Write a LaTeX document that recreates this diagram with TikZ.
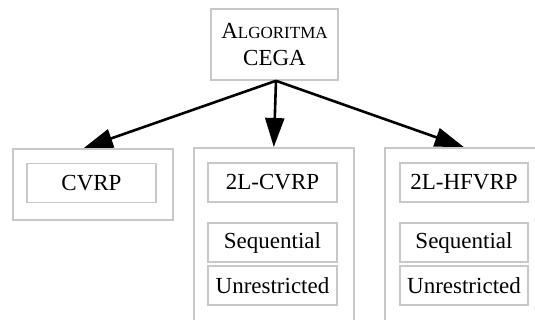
\documentclass[tikz,border=0pt]{standalone}
\usepackage{fontspec}
\setmainfont{Liberation Serif}
\usetikzlibrary{arrows.meta,positioning}
\definecolor{boxgray}{RGB}{200,200,200}
\tikzset{
  frame/.style={draw=boxgray, line width=1.6pt, inner sep=0pt, fill=white},
  cluster/.style={frame, anchor=north west},
  item/.style={frame, minimum width=129pt, minimum height=39pt,
    font=\fontsize{23}{27}\selectfont},
  link/.style={line width=2.6pt, -{Triangle[length=29pt,width=19pt]}}
}
\begin{document}
\begin{tikzpicture}[x=1pt,y=-1pt]
\useasboundingbox (0,0) rectangle (535,320);
\clip (0,0) rectangle (535,320);

% top node
\node[frame, minimum width=127pt, minimum height=71pt, align=center,
  font=\fontsize{23}{27}\selectfont] (cega) at (274.5,44.5)
  {A{\fontsize{17}{27}\selectfont LGORITMA}\\CEGA};

% clusters
\node[cluster, minimum width=160pt, minimum height=71pt] (c1) at (12,148) {};
\node[cluster, minimum width=160pt, minimum height=190pt] (c2) at (193,147) {};
\node[cluster, minimum width=160pt, minimum height=190pt] (c3) at (384,147) {};

% problem variants
\node[item] (cvrp) at (91.5,183) {CVRP};
\node[item] (l2c) at (272.5,182.5) {2L-CVRP};
\node[item] (l2cs) at (272.5,242.5) {Sequential};
\node[item] (l2cu) at (272.5,285.5) {Unrestricted};
\node[item, minimum width=128pt] (l2h) at (464,182.5) {2L-HFVRP};
\node[item, minimum width=128pt] (l2hs) at (464,242.5) {Sequential};
\node[item, minimum width=128pt] (l2hu) at (464,285.5) {Unrestricted};

% edges
\coordinate (src) at ([xshift=1.5pt]cega.south);
\draw[link] (src) -- ([xshift=-9pt]c1.north);
\draw[link] (src) -- (c2.north);
\draw[link] (src) -- ([xshift=-1pt]c3.north);
\end{tikzpicture}
\end{document}
